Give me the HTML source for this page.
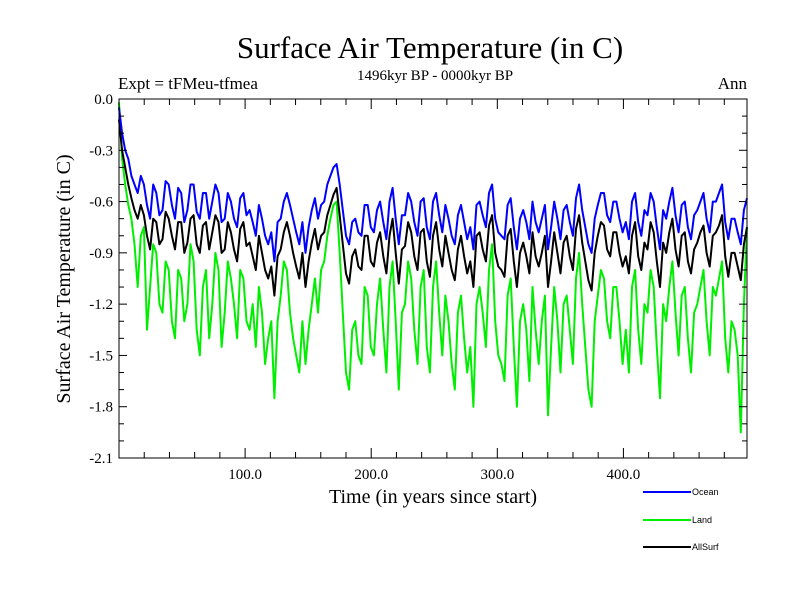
<!DOCTYPE html>
<html><head><meta charset="utf-8"><style>
body{margin:0;background:#fff;}
svg{display:block;}
text{font-family:"Liberation Serif",serif;fill:#000;}
.s{font-family:"Liberation Sans",sans-serif;}
</style></head><body>
<svg id="c" width="800" height="600">
<text x="430" y="58" text-anchor="middle" font-size="31">Surface Air Temperature (in C)</text>
<text x="118" y="89" font-size="17">Expt = tFMeu-tfmea</text>
<text x="435" y="80" text-anchor="middle" font-size="15">1496kyr BP - 0000kyr BP</text>
<text x="747" y="89" text-anchor="end" font-size="17">Ann</text>
<text x="70" y="279" text-anchor="middle" font-size="20" transform="rotate(-90 70 279)">Surface Air Temperature (in C)</text>
<text x="433" y="503" text-anchor="middle" font-size="20">Time (in years since start)</text>
<g id="plot"></g>
<g id="axes"></g>
<g id="legend"></g>
</svg>
<script>
const yTicks=[0,-0.3,-0.6,-0.9,-1.2,-1.5,-1.8,-2.1];
const yTickLabels=["0.0","-0.3","-0.6","-0.9","-1.2","-1.5","-1.8","-2.1"];
const xTicks=[100,200,300,400];
const xTickLabels=["100.0","200.0","300.0","400.0"];
const seriesNames=["Ocean","Land","AllSurf"];
const seriesColors=["#0000ff","#00ee00","#000000"];
const ocean=[-0.05,-0.2,-0.3,-0.35,-0.45,-0.5,-0.55,-0.45,-0.5,-0.62,-0.7,-0.5,-0.55,-0.68,-0.65,-0.48,-0.5,-0.62,-0.7,-0.52,-0.55,-0.72,-0.65,-0.5,-0.5,-0.66,-0.7,-0.55,-0.55,-0.7,-0.6,-0.5,-0.55,-0.72,-0.7,-0.55,-0.6,-0.7,-0.75,-0.58,-0.55,-0.68,-0.65,-0.72,-0.8,-0.62,-0.7,-0.8,-0.85,-0.78,-0.95,-0.72,-0.7,-0.6,-0.55,-0.62,-0.7,-0.78,-0.85,-0.72,-0.9,-0.75,-0.65,-0.58,-0.7,-0.62,-0.6,-0.5,-0.45,-0.4,-0.38,-0.5,-0.65,-0.8,-0.85,-0.72,-0.7,-0.78,-0.8,-0.62,-0.62,-0.75,-0.78,-0.65,-0.6,-0.72,-0.82,-0.6,-0.52,-0.7,-0.85,-0.68,-0.68,-0.55,-0.6,-0.72,-0.8,-0.6,-0.58,-0.75,-0.82,-0.6,-0.55,-0.68,-0.78,-0.62,-0.7,-0.8,-0.85,-0.68,-0.62,-0.72,-0.82,-0.75,-0.88,-0.62,-0.6,-0.68,-0.75,-0.55,-0.5,-0.7,-0.78,-0.8,-0.82,-0.62,-0.58,-0.75,-0.88,-0.7,-0.65,-0.72,-0.82,-0.6,-0.72,-0.78,-0.7,-0.62,-0.88,-0.75,-0.6,-0.7,-0.82,-0.65,-0.62,-0.72,-0.8,-0.58,-0.5,-0.65,-0.75,-0.85,-0.9,-0.7,-0.62,-0.55,-0.55,-0.68,-0.72,-0.6,-0.6,-0.7,-0.78,-0.72,-0.82,-0.6,-0.55,-0.72,-0.8,-0.65,-0.68,-0.55,-0.6,-0.75,-0.88,-0.65,-0.7,-0.6,-0.52,-0.68,-0.78,-0.62,-0.6,-0.75,-0.82,-0.68,-0.65,-0.6,-0.55,-0.7,-0.78,-0.6,-0.6,-0.55,-0.5,-0.72,-0.82,-0.7,-0.7,-0.78,-0.85,-0.65,-0.58];
const allsurf=[-0.12,-0.3,-0.4,-0.5,-0.58,-0.65,-0.7,-0.62,-0.68,-0.8,-0.88,-0.7,-0.72,-0.85,-0.82,-0.66,-0.7,-0.8,-0.88,-0.72,-0.72,-0.9,-0.84,-0.7,-0.68,-0.85,-0.9,-0.74,-0.72,-0.88,-0.78,-0.68,-0.72,-0.9,-0.88,-0.72,-0.78,-0.88,-0.95,-0.76,-0.72,-0.86,-0.84,-0.92,-1.0,-0.8,-0.9,-1.0,-1.05,-0.98,-1.15,-0.92,-0.88,-0.78,-0.72,-0.8,-0.9,-0.98,-1.05,-0.9,-1.1,-0.95,-0.84,-0.76,-0.88,-0.8,-0.78,-0.68,-0.62,-0.56,-0.52,-0.68,-0.85,-1.02,-1.08,-0.92,-0.88,-0.98,-1.0,-0.8,-0.8,-0.95,-0.98,-0.84,-0.78,-0.92,-1.02,-0.8,-0.7,-0.9,-1.08,-0.88,-0.86,-0.72,-0.78,-0.92,-1.0,-0.78,-0.76,-0.95,-1.04,-0.8,-0.72,-0.88,-0.98,-0.8,-0.9,-1.0,-1.06,-0.88,-0.8,-0.92,-1.02,-0.95,-1.1,-0.8,-0.78,-0.88,-0.95,-0.74,-0.68,-0.9,-0.98,-1.0,-1.04,-0.8,-0.76,-0.95,-1.1,-0.9,-0.84,-0.92,-1.02,-0.78,-0.92,-0.98,-0.9,-0.8,-1.1,-0.95,-0.78,-0.9,-1.02,-0.84,-0.8,-0.92,-1.0,-0.76,-0.68,-0.84,-0.95,-1.06,-1.12,-0.9,-0.8,-0.72,-0.74,-0.88,-0.92,-0.78,-0.78,-0.9,-0.98,-0.92,-1.02,-0.8,-0.72,-0.92,-1.0,-0.84,-0.88,-0.72,-0.78,-0.95,-1.1,-0.84,-0.9,-0.78,-0.7,-0.88,-0.98,-0.8,-0.78,-0.95,-1.02,-0.88,-0.84,-0.78,-0.74,-0.9,-0.98,-0.8,-0.78,-0.74,-0.68,-0.92,-1.04,-0.9,-0.9,-0.98,-1.06,-0.85,-0.75];
const land=[-0.02,-0.35,-0.5,-0.62,-0.7,-0.85,-1.1,-0.8,-0.75,-1.35,-1.1,-0.85,-0.9,-1.2,-1.25,-0.95,-1.0,-1.3,-1.4,-1.0,-1.05,-1.3,-1.2,-0.85,-0.95,-1.35,-1.5,-1.1,-1.0,-1.4,-1.2,-0.9,-1.0,-1.45,-1.25,-0.95,-1.05,-1.2,-1.4,-1.0,-1.05,-1.3,-1.35,-1.2,-1.45,-1.1,-1.25,-1.55,-1.4,-1.3,-1.75,-1.3,-1.15,-0.95,-1.0,-1.25,-1.4,-1.5,-1.6,-1.3,-1.55,-1.35,-1.2,-1.05,-1.25,-1.0,-0.95,-0.8,-0.7,-0.62,-0.6,-0.9,-1.25,-1.6,-1.7,-1.35,-1.3,-1.5,-1.55,-1.1,-1.15,-1.45,-1.5,-1.2,-1.05,-1.35,-1.6,-1.1,-0.95,-1.3,-1.7,-1.25,-1.2,-0.95,-1.05,-1.35,-1.55,-1.1,-1.0,-1.45,-1.6,-1.1,-0.95,-1.25,-1.5,-1.15,-1.3,-1.55,-1.7,-1.25,-1.15,-1.4,-1.6,-1.45,-1.8,-1.2,-1.1,-1.25,-1.45,-1.0,-0.85,-1.3,-1.5,-1.55,-1.65,-1.15,-1.05,-1.45,-1.8,-1.3,-1.2,-1.35,-1.65,-1.1,-1.35,-1.55,-1.3,-1.15,-1.85,-1.45,-1.1,-1.3,-1.6,-1.2,-1.15,-1.35,-1.55,-1.05,-0.9,-1.2,-1.45,-1.7,-1.8,-1.3,-1.15,-1.0,-1.05,-1.3,-1.4,-1.1,-1.1,-1.3,-1.55,-1.35,-1.6,-1.1,-1.0,-1.35,-1.55,-1.2,-1.25,-1.0,-1.1,-1.45,-1.75,-1.2,-1.3,-1.1,-0.95,-1.25,-1.5,-1.15,-1.1,-1.4,-1.6,-1.25,-1.2,-1.1,-1.0,-1.3,-1.5,-1.1,-1.15,-1.05,-0.95,-1.4,-1.6,-1.3,-1.35,-1.5,-1.95,-1.2,-0.75];
const NS="http://www.w3.org/2000/svg";
const L=119,R=747,T=99,B=458,XMAX=498,YMIN=-2.1;
function xs(v){return L+(v/XMAX)*(R-L);}
function ys(v){return T+(v/YMIN)*(B-T);}
function mk(tag,attrs,parent){const e=document.createElementNS(NS,tag);for(const k in attrs)e.setAttribute(k,attrs[k]);parent.appendChild(e);return e;}
const plot=document.getElementById('plot'),axes=document.getElementById('axes'),leg=document.getElementById('legend');
const data=[ocean,land,allsurf];
const order=[1,2,0];
const slugs=["ocean-line","land-line","allsurf-line"];
order.forEach(si=>{
  const arr=data[si],n=arr.length;
  const d=arr.map((v,i)=>(i?'L':'M')+xs(i*XMAX/(n-1)).toFixed(1)+','+ys(v).toFixed(1)).join('');
  const p=mk('path',{d:d,fill:'none',stroke:seriesColors[si],'stroke-width':2,'stroke-linejoin':'round'},plot);
  
  
});
const frame=mk('rect',{x:L,y:T,width:R-L,height:B-T,fill:'none',stroke:'#000','stroke-width':1},axes);


for(let v=0;v>=-2.1001;v-=0.1){
  const y=ys(v),maj=Math.abs(Math.round(v*10)%3)===0,len=maj?8:5;
  mk('line',{x1:L,y1:y,x2:L+len,y2:y,stroke:'#000'},axes);
  mk('line',{x1:R,y1:y,x2:R-len,y2:y,stroke:'#000'},axes);
}
for(let v=20;v<XMAX;v+=20){
  const x=xs(v),len=(v%100===0)?10:6;
  mk('line',{x1:x,y1:B,x2:x,y2:B-len,stroke:'#000'},axes);
  mk('line',{x1:x,y1:T,x2:x,y2:T+len,stroke:'#000'},axes);
}
yTicks.forEach((v,i)=>{
  const t=mk('text',{x:L-6,y:ys(v)+5,'text-anchor':'end','font-size':15},axes);
  t.textContent=yTickLabels[i];
  
  
});
xTicks.forEach((v,i)=>{
  const t=mk('text',{x:xs(v),y:B+21,'text-anchor':'middle','font-size':15},axes);
  t.textContent=xTickLabels[i];
  
  
});
const legY=[492,520,547];
[0,1,2].forEach(si=>{
  const g=mk('g',{},leg);
  
  
  mk('line',{x1:643,y1:legY[si],x2:691,y2:legY[si],stroke:seriesColors[si],'stroke-width':2},g);
  const t=mk('text',{x:692,y:legY[si]+3,'font-size':9,class:'s'},g);
  t.textContent=seriesNames[si];
});
</script>
</body></html>
